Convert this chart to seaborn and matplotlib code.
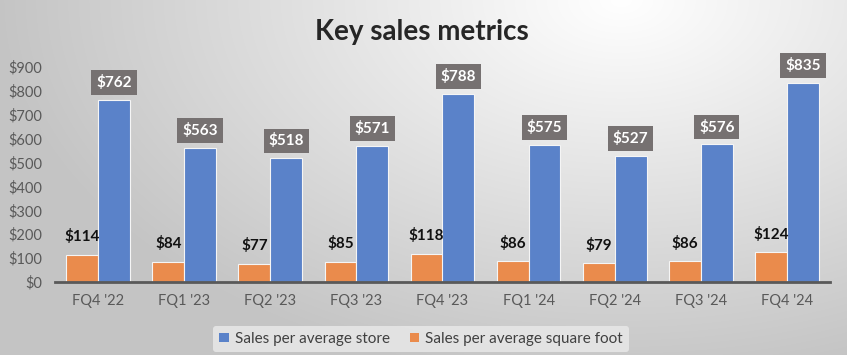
import numpy as np
import pandas as pd
import matplotlib
matplotlib.use("Agg")
import matplotlib.pyplot as plt
import seaborn as sns
from matplotlib.patches import Patch

quarters = ["FQ4 '22", "FQ1 '23", "FQ2 '23", "FQ3 '23", "FQ4 '23", "FQ1 '24", "FQ2 '24", "FQ3 '24", "FQ4 '24"]
per_store = [762, 563, 518, 571, 788, 575, 527, 576, 835]
per_sqft = [114, 84, 77, 85, 118, 86, 79, 86, 124]
series_store = "Sales per average store"
series_sqft = "Sales per average square foot"
yticks = [0, 100, 200, 300, 400, 500, 600, 700, 800, 900]

blue = "#5a82c9"
orange = "#ea8b4c"

sns.set_theme(style="white")
plt.rcParams['font.family'] = ['Lato', 'DejaVu Sans']

df = pd.DataFrame({
    "quarter": quarters * 2,
    "value": per_sqft + per_store,
    "series": [series_sqft] * len(quarters) + [series_store] * len(quarters),
})

fig = plt.figure(figsize=(8.47, 3.55), dpi=100)
# radial gradient background
H, W = 355, 847
yy, xx = np.mgrid[0:H, 0:W]
d = np.sqrt(((xx - 620) / 650.0) ** 2 + ((yy - 0) / 400.0) ** 2)
g = np.clip(1.0 - 0.24 * d, 0.77, 1.0)
bg = fig.add_axes([0, 0, 1, 1], zorder=-10)
bg.imshow(np.dstack([g, g, g]), aspect="auto", extent=[0, 1, 0, 1])
bg.axis("off")

ax = fig.add_axes([55 / W, 1 - 282 / H, 775 / W, (282 - 67) / H])
ax.patch.set_alpha(0)
sns.barplot(data=df, x="quarter", y="value", hue="series",
            hue_order=[series_sqft, series_store], palette=[orange, blue],
            saturation=1, width=0.74, gap=0, edgecolor="#f5f5f5", linewidth=0.8,
            legend=False, ax=ax, order=quarters)

ax.set_ylim(0, 900)
ax.set_xlim(-0.5, len(quarters) - 0.5)
ax.set_yticks(yticks)
ax.set_yticklabels([f"${v}" for v in yticks], color="#595959", fontsize=10.5)
ax.tick_params(axis="x", colors="#595959", labelsize=10.5, length=0, pad=9)
ax.tick_params(axis="y", length=0, pad=9)
ax.set_xlabel("")
ax.set_ylabel("")
for s in ["top", "right", "left"]:
    ax.spines[s].set_visible(False)
ax.spines["bottom"].set_color("#595959")
ax.spines["bottom"].set_linewidth(2)
ax.spines["bottom"].set_zorder(5)

# data labels
for cont, vals, kind in zip(ax.containers, [per_sqft, per_store], ["sqft", "store"]):
    for bar, v in zip(cont, vals):
        xc = bar.get_x() + bar.get_width() / 2
        top = bar.get_height()
        if kind == "store":
            ax.annotate(f"${v}", (xc, top), xytext=(0, 12.5), textcoords="offset points",
                        ha="center", va="center", color="white", fontsize=11,
                        fontweight="bold", clip_on=False,
                        bbox=dict(boxstyle="square,pad=0.32", fc="#767171", ec="none"))
        else:
            ax.annotate(f"${v}", (xc, top), xytext=(0, 13), textcoords="offset points",
                        ha="center", va="center", color="#111111", fontsize=11,
                        fontweight="bold", clip_on=False)

fig.text(422 / W, 1 - 32 / H, "Key sales metrics", ha="center", va="center",
         fontsize=20, fontweight="bold", color="#262626")

handles = [Patch(facecolor=blue, edgecolor="none"), Patch(facecolor=orange, edgecolor="none")]
leg = fig.legend(handles, [series_store, series_sqft], loc="center",
                 bbox_to_anchor=(421 / W, 1 - 339 / H), ncol=2, frameon=True,
                 fontsize=11, handlelength=0.6, handleheight=0.6, handletextpad=0.4,
                 columnspacing=1.3, borderpad=0.4, borderaxespad=0)
leg.get_frame().set_facecolor("#e6e6e6")
leg.get_frame().set_edgecolor("none")
leg.get_frame().set_alpha(0.9)
for t in leg.get_texts():
    t.set_color("#404040")

fig.savefig("out.png", dpi=100)
